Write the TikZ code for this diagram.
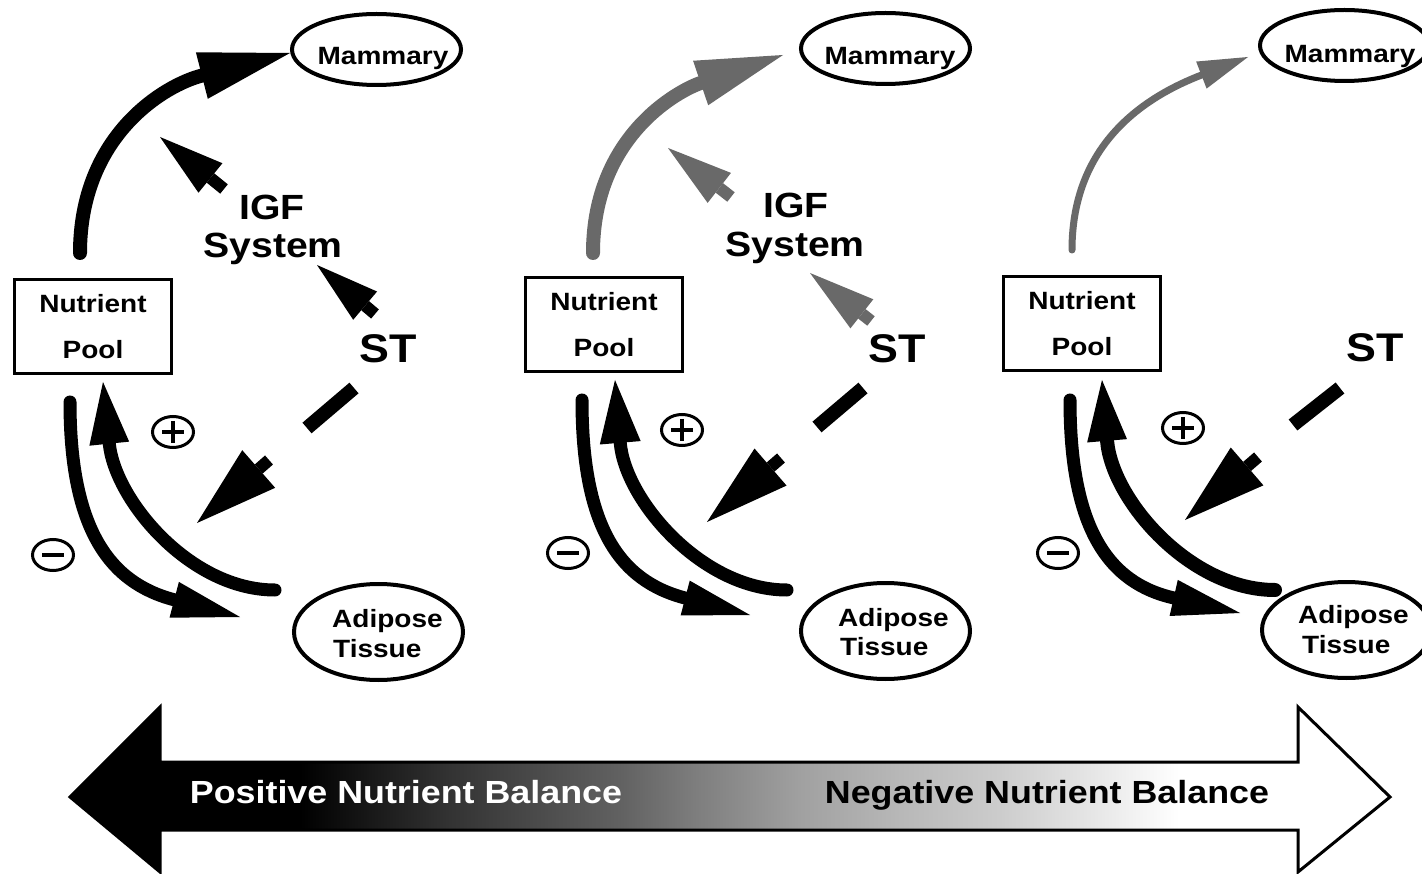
\documentclass[tikz,border=0pt]{standalone}
\usepackage{fontspec}
\setmainfont{Liberation Sans}
\newfontfamily\figfont[FakeStretch=1.12]{Liberation Sans}
\usetikzlibrary{arrows.meta,shapes.geometric}
\definecolor{flowgray}{RGB}{105,105,105}
\pgfdeclarehorizontalshading{balance}{100bp}{color(0bp)=(black); color(25bp)=(black); color(33.7bp)=(black); color(39.4bp)=(black!80); color(45.8bp)=(black!62); color(48.9bp)=(black!50); color(52.7bp)=(black!37); color(56.4bp)=(black!28); color(60.2bp)=(black!20); color(64bp)=(black!9); color(67bp)=(white); color(100bp)=(white)}
\begin{document}
\begin{tikzpicture}[x=1pt,y=-1pt,
  lbl/.style={inner sep=0pt, font=\figfont\bfseries\fontsize{25}{30}\selectfont},
  biglbl/.style={inner sep=0pt, font=\figfont\bfseries\fontsize{35}{40}\selectfont},
  stlbl/.style={inner sep=0pt, font=\figfont\bfseries\fontsize{40}{44}\selectfont},
  ballbl/.style={inner sep=0pt, font=\figfont\bfseries\fontsize{32}{36}\selectfont},
  oval/.style={ellipse, draw, line width=4pt, inner sep=0pt, minimum width=169pt, minimum height=71pt},
  fatoval/.style={ellipse, draw, line width=4pt, inner sep=0pt, minimum width=169pt, minimum height=96pt},
  poolbox/.style={rectangle, draw, line width=3pt, inner sep=0pt, minimum width=157pt, minimum height=94pt, align=center, font=\figfont\bfseries\fontsize{25}{46}\selectfont},
  sgn/.style={ellipse, draw, line width=3pt, inner sep=0pt, minimum width=41pt, minimum height=31pt},
  sgnline/.style={line width=3.5pt},
  feed/.style={line width=13pt, line cap=round},
  stub/.style={line width=12pt},
  barstroke/.style={line width=14pt},
  outline/.style={line width=3pt, line join=miter}
]
\clip (0,0) rectangle (1422,874);
\fill[white] (0,0) rectangle (1422,874);

% ---------------- Panel 1 ----------------
\node[oval] (mam1) at (376.5,49.5) {};
\node[lbl, anchor=base] (mam1t) at (383,65) {Mammary};
\node[poolbox] (pool1) at (93,326.5) {Nutrient\\Pool};
\node[fatoval] (adi1) at (378.5,632) {};
\node[lbl, anchor=base west] (adi1a) at (332,627) {Adipose};
\node[lbl, anchor=base west] (adi1b) at (333,657) {Tissue};
\node[biglbl, anchor=base] (igf1a) at (272,220) {IGF};
\node[biglbl, anchor=base] (igf1b) at (273,258) {System};
\node[stlbl, anchor=base] (st1) at (388,363) {ST};
\node[sgn] (plus1) at (173,432) {};
\draw[sgnline] (plus1.center) +(-11,0) -- +(11,0) +(0,-11) -- +(0,11);
\node[sgn] (minus1) at (53,555) {};
\draw[sgnline] (minus1.center) +(-11,0) -- +(11,0);

\coordinate (p1arcS) at (80,253);
\coordinate (p1arcE) at (290,53);
\draw[feed, line width=14pt, -{Triangle[length=91pt,width=48pt,line width=0pt]}] (p1arcS) .. controls (80,135) and (165,85) .. (p1arcE);
\coordinate (p1igfS) at (224,189);
\coordinate (p1igfE) at (160,137);
\draw[stub, -{Triangle[length=65pt,width=38pt,line width=0pt]}] (p1igfS) -- (p1igfE);
\coordinate (p1stS) at (375,314);
\coordinate (p1stE) at (317,265);
\draw[stub, -{Triangle[length=63pt,width=37pt,line width=0pt]}] (p1stS) -- (p1stE);
\coordinate (p1barA) at (354,388);
\coordinate (p1barB) at (307,428);
\draw[barstroke] (p1barA) -- (p1barB);
\coordinate (p1adS) at (269,460);
\coordinate (p1adE) at (197,523);
\draw[stub, -{Triangle[length=82pt,width=50pt,line width=0pt]}] (p1adS) -- (p1adE);
\coordinate (p1dnS) at (70,402);
\coordinate (p1dnE) at (240,617);
\draw[feed, -{Triangle[length=68pt,width=37pt,line width=0pt]}] (p1dnS) .. controls (70,530) and (110,583) .. (p1dnE);
\coordinate (p1upS) at (275,590);
\coordinate (p1upE) at (103,382);
\draw[feed, -{Triangle[length=62pt,width=40pt,line width=0pt]}] (p1upS) .. controls (190,590) and (115,500) .. (p1upE);

% ---------------- Panel 2 ----------------
\node[oval] (mam2) at (885.5,48.5) {};
\node[lbl, anchor=base] (mam2t) at (890,65) {Mammary};
\node[poolbox] (pool2) at (604,324.5) {Nutrient\\Pool};
\node[fatoval] (adi2) at (885.5,631) {};
\node[lbl, anchor=base west] (adi2a) at (838,626) {Adipose};
\node[lbl, anchor=base west] (adi2b) at (840,655) {Tissue};
\node[biglbl, anchor=base] (igf2a) at (796,218) {IGF};
\node[biglbl, anchor=base] (igf2b) at (795,257) {System};
\node[stlbl, anchor=base] (st2) at (897,363) {ST};
\node[sgn] (plus2) at (682,430) {};
\draw[sgnline] (plus2.center) +(-11,0) -- +(11,0) +(0,-11) -- +(0,11);
\node[sgn] (minus2) at (568,553) {};
\draw[sgnline] (minus2.center) +(-11,0) -- +(11,0);

\coordinate (p2arcS) at (593,253);
\coordinate (p2arcE) at (783,55);
\draw[feed, line width=14pt, flowgray, -{Triangle[length=87pt,width=47pt,line width=0pt]}] (p2arcS) .. controls (593,135) and (680,90) .. (p2arcE);
\coordinate (p2igfS) at (731,197);
\coordinate (p2igfE) at (668,148);
\draw[stub, flowgray, -{Triangle[length=65pt,width=38pt,line width=0pt]}] (p2igfS) -- (p2igfE);
\coordinate (p2stS) at (871,321);
\coordinate (p2stE) at (810,273);
\draw[stub, flowgray, -{Triangle[length=66pt,width=37pt,line width=0pt]}] (p2stS) -- (p2stE);
\coordinate (p2barA) at (863,388);
\coordinate (p2barB) at (817,427);
\draw[barstroke] (p2barA) -- (p2barB);
\coordinate (p2adS) at (781,458);
\coordinate (p2adE) at (707,522);
\draw[stub, -{Triangle[length=84pt,width=49pt,line width=0pt]}] (p2adS) -- (p2adE);
\coordinate (p2dnS) at (582,400);
\coordinate (p2dnE) at (750,615);
\draw[feed, -{Triangle[length=67pt,width=36pt,line width=0pt]}] (p2dnS) .. controls (582,528) and (620,581) .. (p2dnE);
\coordinate (p2upS) at (787,590);
\coordinate (p2upE) at (615,380);
\draw[feed, -{Triangle[length=63pt,width=41pt,line width=0pt]}] (p2upS) .. controls (702,590) and (625,500) .. (p2upE);

% ---------------- Panel 3 ----------------
\node[oval] (mam3) at (1344.5,45.5) {};
\node[lbl, anchor=base] (mam3t) at (1350,63) {Mammary};
\node[poolbox] (pool3) at (1082,324) {Nutrient\\Pool};
\node[fatoval] (adi3) at (1346.5,630) {};
\node[lbl, anchor=base west] (adi3a) at (1298,623) {Adipose};
\node[lbl, anchor=base west] (adi3b) at (1302,653) {Tissue};
\node[stlbl, anchor=base] (st3) at (1375,362) {ST};
\node[sgn] (plus3) at (1183,428) {};
\draw[sgnline] (plus3.center) +(-11,0) -- +(11,0) +(0,-11) -- +(0,11);
\node[sgn] (minus3) at (1058,553) {};
\draw[sgnline] (minus3.center) +(-11,0) -- +(11,0);

\coordinate (p3arcS) at (1072,250);
\coordinate (p3arcE) at (1248,57);
\draw[feed, line width=7pt, flowgray, -{Triangle[length=50pt,width=29pt,line width=0pt]}] (p3arcS) .. controls (1072,140) and (1150,95) .. (p3arcE);
\coordinate (p3barA) at (1340,388);
\coordinate (p3barB) at (1293,425);
\draw[barstroke] (p3barA) -- (p3barB);
\coordinate (p3adS) at (1258,457);
\coordinate (p3adE) at (1185,520);
\draw[stub, -{Triangle[length=82pt,width=50pt,line width=0pt]}] (p3adS) -- (p3adE);
\coordinate (p3dnS) at (1070,400);
\coordinate (p3dnE) at (1240,613);
\draw[feed, -{Triangle[length=68pt,width=37pt,line width=0pt]}] (p3dnS) .. controls (1070,528) and (1108,583) .. (p3dnE);
\coordinate (p3upS) at (1275,590);
\coordinate (p3upE) at (1102,380);
\draw[feed, line width=14pt, -{Triangle[length=61pt,width=40pt,line width=0pt]}] (p3upS) .. controls (1190,590) and (1112,500) .. (p3upE);

% ---------------- Balance arrow ----------------
\fill[shading=balance] (70,797) -- (160,707) -- (160,762) -- (1298,762) -- (1298,707) -- (1390,797) -- (1298,872) -- (1298,830) -- (160,830) -- (160,872) -- cycle;
\draw[outline] (70,797) -- (160,707) -- (160,762) -- (1298,762) -- (1298,707) -- (1390,797) -- (1298,872) -- (1298,830) -- (160,830) -- (160,872) -- cycle;
\node[ballbl, text=white, anchor=base] (posbal) at (406,803) {Positive Nutrient Balance};
\node[ballbl, anchor=base] (negbal) at (1047,803) {Negative Nutrient Balance};
\end{tikzpicture}
\end{document}
